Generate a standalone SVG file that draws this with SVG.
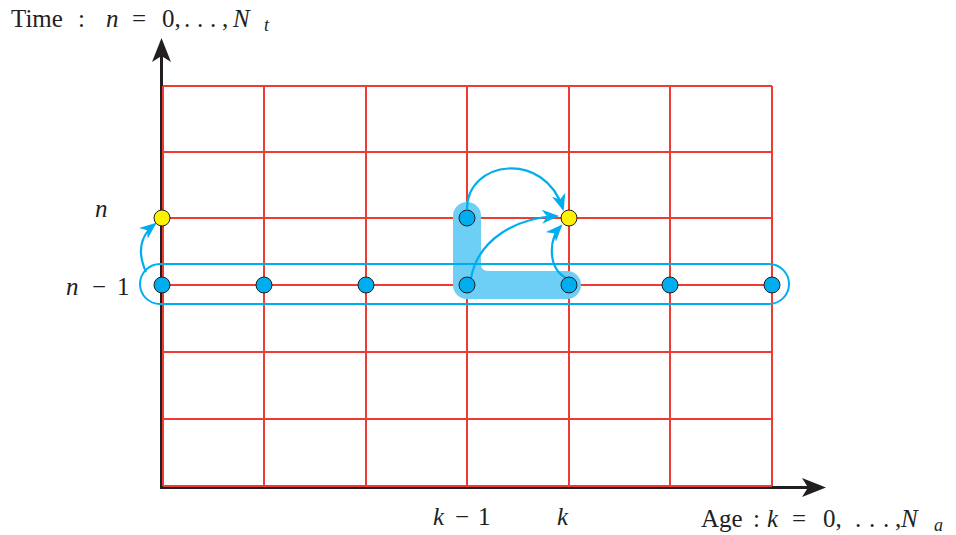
<svg xmlns="http://www.w3.org/2000/svg" width="956" height="535" viewBox="0 0 956 535">
<defs>
<marker id="ah" markerUnits="userSpaceOnUse" markerWidth="18" markerHeight="14" refX="15" refY="7" orient="auto" viewBox="0 0 18 14">
<path d="M0,0 L17,7 L0,14 L5,7 Z" fill="#00aeef"/>
</marker>
<circle id="dot" r="8" stroke="#231f20" stroke-width="1"/>
</defs>
<rect width="956" height="535" fill="#ffffff"/>
<g id="axes" fill="#231f20">
<line x1="161.5" y1="488" x2="161.5" y2="56" stroke="#231f20" stroke-width="3"/>
<path d="M161.5,38 L171,62 L161.5,56 L152,62 Z"/>
<line x1="160" y1="487.5" x2="808" y2="487.5" stroke="#231f20" stroke-width="3"/>
<path d="M826,487.5 L802,478 L808,487.5 L802,497 Z"/>
</g>
<g id="grid">
<path stroke="#ee3b34" stroke-width="2" fill="none" d="M163,86 H772 M163,152 H772 M163,218 H772 M163,285 H772 M163,352 H772 M163,419 H772 M163,486 H772 M163,86 V486 M264,86 V486 M366,86 V486 M467,86 V486 M569,86 V486 M670,86 V486 M772,86 V486"/>
</g>
<g id="highlight-L">
<path d="M453,216 A14,14 0 0 1 481,216 L481,264 Q481,271 488,271 L567,271 A14,14 0 0 1 567,299 L467,299 A14,14 0 0 1 453,285 Z" fill="#6dcff6"/>
</g>
<g id="row-band">
<rect x="140" y="264" width="649" height="40" rx="20" ry="20" fill="none" stroke="#00aeef" stroke-width="2"/>
</g>
<g id="connectors" stroke="#00aeef" stroke-width="2.2" fill="none">
<path marker-end="url(#ah)" d="M467,209 C467,160 545,150 563,209"/>
<path marker-end="url(#ah)" d="M471,278 C478,240 515,218 557,216"/>
<path marker-end="url(#ah)" d="M566,278 C548,268 548,240 561,226"/>
<path marker-end="url(#ah)" d="M146,272 C137,252 140,236 155,224"/>
</g>
<g id="nodes">
<g id="n-0-n"><use href="#dot" x="162" y="218" fill="#fff200"/></g>
<g id="n-k-n"><use href="#dot" x="569" y="218" fill="#fff200"/></g>
<g id="n-km1-n"><use href="#dot" x="467" y="218" fill="#00aeef"/></g>
<g id="n-0"><use href="#dot" x="162" y="285" fill="#00aeef"/></g>
<g id="n-1"><use href="#dot" x="264" y="285" fill="#00aeef"/></g>
<g id="n-2"><use href="#dot" x="366" y="285" fill="#00aeef"/></g>
<g id="n-3"><use href="#dot" x="467" y="285" fill="#00aeef"/></g>
<g id="n-4"><use href="#dot" x="569" y="285" fill="#00aeef"/></g>
<g id="n-5"><use href="#dot" x="670" y="285" fill="#00aeef"/></g>
<g id="n-6"><use href="#dot" x="772" y="285" fill="#00aeef"/></g>
</g>
<g id="labels">
<text x="11" y="27" font-family="Liberation Serif" font-size="25" fill="#231f20">Time<tspan x="78">:</tspan><tspan font-style="italic" x="106">n</tspan><tspan x="132">=</tspan><tspan x="162">0,</tspan><tspan x="184">.</tspan><tspan x="197">.</tspan><tspan x="210">.</tspan><tspan x="222">,</tspan><tspan font-style="italic" x="233">N</tspan><tspan font-style="italic" font-size="18" x="264" dy="4">t</tspan></text>
<text x="95" y="217" font-family="Liberation Serif" font-size="25" font-style="italic" fill="#231f20">n</text>
<text x="66" y="295" font-family="Liberation Serif" font-size="25" fill="#231f20"><tspan font-style="italic">n</tspan><tspan x="92">−</tspan><tspan x="117">1</tspan></text>
<text x="433" y="525" font-family="Liberation Serif" font-size="25" fill="#231f20"><tspan font-style="italic">k</tspan><tspan x="455">−</tspan><tspan x="478">1</tspan></text>
<text x="557" y="525" font-family="Liberation Serif" font-size="25" font-style="italic" fill="#231f20">k</text>
<text x="701" y="527" font-family="Liberation Serif" font-size="25" fill="#231f20">Age<tspan x="753">:</tspan><tspan font-style="italic" x="767">k</tspan><tspan x="792">=</tspan><tspan x="823">0,</tspan><tspan x="855">.</tspan><tspan x="869">.</tspan><tspan x="883">.</tspan><tspan x="895">,</tspan><tspan font-style="italic" x="901">N</tspan><tspan font-style="italic" font-size="18" x="934" dy="4">a</tspan></text>
</g>
</svg>
